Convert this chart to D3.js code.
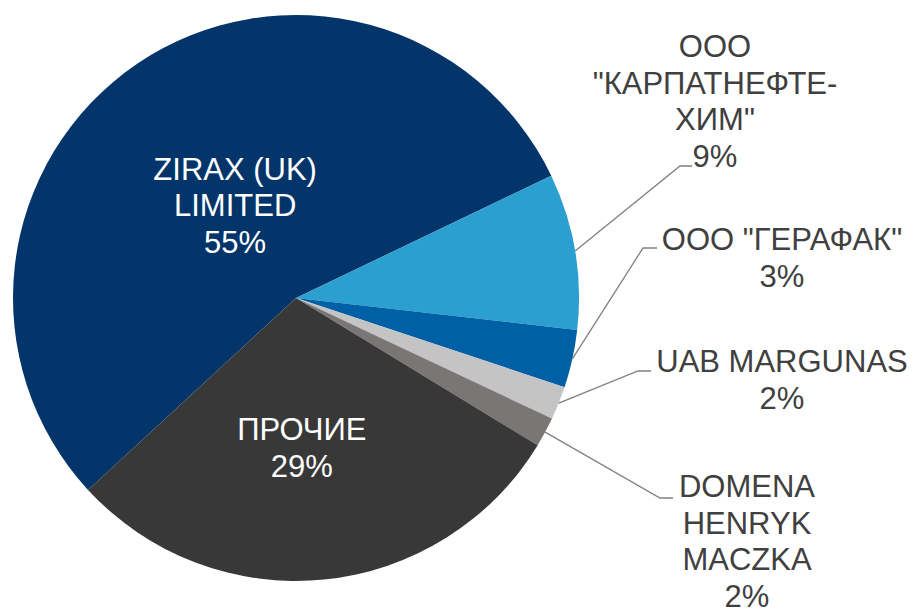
<!DOCTYPE html>
<html lang="ru">
<head>
<meta charset="UTF-8">
<title>Pie</title>
<style>
  body { margin: 0; background: #fff; }
  svg { display: block; font-family: "Liberation Sans", Arial, sans-serif; }
</style>
</head>
<body>
<svg id="chart" width="915" height="609"></svg>
<script src="https://cdnjs.cloudflare.com/ajax/libs/d3/7.8.5/d3.min.js"></script>
<script>
// data
const names = ["ZIRAX (UK) LIMITED", "ООО \"КАРПАТНЕФТЕХИМ\"", "ООО \"ГЕРАФАК\"", "UAB MARGUNAS", "DOMENA HENRYK MACZKA", "ПРОЧИЕ"];
const shares = [54.7, 8.9, 3.3, 1.9, 1.7, 29.4];
const labelLines = [
  ["ZIRAX (UK)", "LIMITED"],
  ["ООО", "\"КАРПАТНЕФТЕ-", "ХИМ\""],
  ["ООО \"ГЕРАФАК\""],
  ["UAB MARGUNAS"],
  ["DOMENA", "HENRYK", "MACZKA"],
  ["ПРОЧИЕ"]
];
const colors = ["#03356a", "#2a9fd0", "#0060a5", "#c4c4c4", "#7a7675", "#383838"];

const width = 915, height = 609;
const cx = 296, cy = 298, radius = 283;
const fontSize = 31, lineH = 36.5;

// where each label goes: inside ones at a radius, outside ones with a leader
const labelLayout = [
  { inside: true, r: 112, dx: 2 },
  { inside: false, x: 715, y: 57, elbow: [680, 166], end: [692, 166] },
  { inside: false, x: 782, y: 250, elbow: [643, 248], end: [657, 248] },
  { inside: false, x: 782, y: 372, elbow: [638, 371], end: [651, 371] },
  { inside: false, x: 747, y: 497, elbow: [660, 498], end: [673, 498] },
  { inside: true, r: 150, dx: -9 }
];

const total = d3.sum(shares);
const startA = -132.7 * Math.PI / 180;

const pie = d3.pie()
  .sort(null)
  .value(d => d)
  .startAngle(startA)
  .endAngle(startA + 2 * Math.PI);

const arcs = pie(shares);
const arc = d3.arc().innerRadius(0).outerRadius(radius);

const svg = d3.select("#chart");
const g = svg.append("g").attr("transform", `translate(${cx},${cy})`);

g.selectAll("path.slice")
  .data(arcs)
  .enter()
  .append("path")
  .attr("class", "slice")
  .attr("d", arc)
  .attr("fill", (d, i) => colors[i]);

// leader lines
arcs.forEach((d, i) => {
  const lay = labelLayout[i];
  if (lay.inside) return;
  const mid = (d.startAngle + d.endAngle) / 2;
  const p0 = [cx + radius * Math.sin(mid), cy - radius * Math.cos(mid)];
  svg.append("polyline")
    .attr("points", [p0, lay.elbow, lay.end].map(p => p.join(",")).join(" "))
    .attr("fill", "none")
    .attr("stroke", "#808080")
    .attr("stroke-width", 1.3);
});

// labels
arcs.forEach((d, i) => {
  const lay = labelLayout[i];
  const pct = Math.round(shares[i] / total * 100) + "%";
  const lines = labelLines[i].concat([pct]);
  let x, y0, fill;
  if (lay.inside) {
    const c = d3.arc().innerRadius(lay.r).outerRadius(lay.r).centroid(d);
    x = cx + c[0] + lay.dx;
    y0 = cy + c[1] - (lines.length - 1) * lineH / 2 + fontSize * 0.36;
    fill = "#fff";
  } else {
    x = lay.x;
    y0 = lay.y;
    fill = "#404040";
  }
  const t = svg.append("text")
    .attr("text-anchor", "middle")
    .attr("font-size", fontSize)
    .attr("fill", fill);
  lines.forEach((s, k) => {
    t.append("tspan").attr("x", x).attr("y", y0 + k * lineH).text(s);
  });
});
</script>
</body>
</html>
